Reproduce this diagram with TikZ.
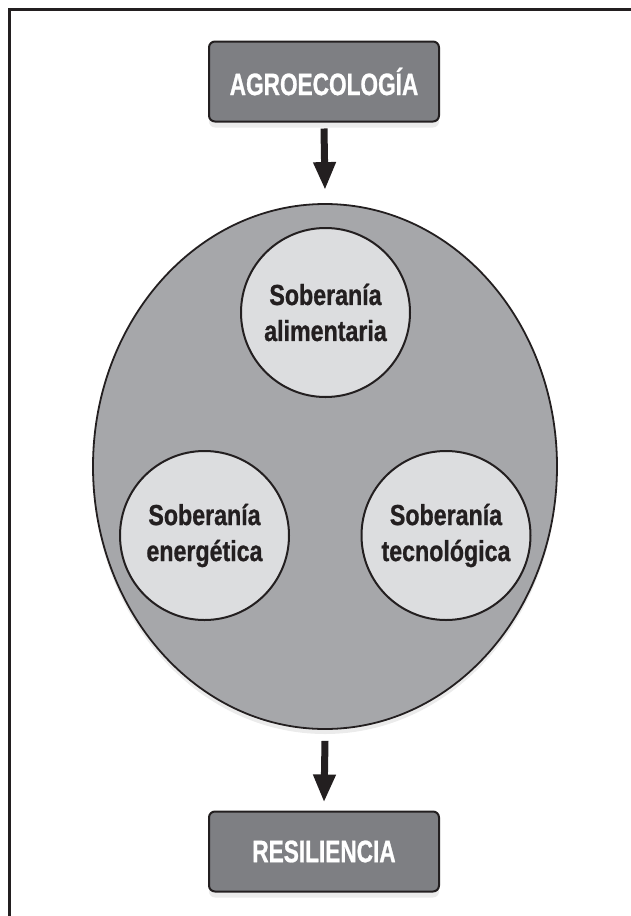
\documentclass[tikz,border=0pt]{standalone}
\usepackage{fontspec}
\setmainfont{Liberation Sans}
\newfontfamily\boxfont[FakeStretch=0.73,FakeBold=0.8]{Liberation Sans Bold}
\newfontfamily\circfont[FakeStretch=0.80,FakeBold=0.8]{Liberation Sans Bold}
\usetikzlibrary{shapes.geometric,arrows.meta,shadows}
\definecolor{ink}{HTML}{231F20}
\definecolor{boxgray}{HTML}{7E7F83}
\definecolor{ellgray}{HTML}{A6A7AA}
\definecolor{circgray}{HTML}{DCDDDF}
\tikzset{
  titlebox/.style={draw=ink, line width=2pt, fill=boxgray, rounded corners=6pt,
    minimum width=230pt, minimum height=80pt, inner sep=0pt,
    text=white, font=\boxfont\fontsize{31}{36}\selectfont,
    drop shadow={shadow xshift=0pt, shadow yshift=-6pt, opacity=0.16}},
  bigell/.style={ellipse, draw=ink, line width=1.8pt, fill=ellgray,
    minimum width=464pt, minimum height=525pt, inner sep=0pt,
    drop shadow={shadow xshift=0pt, shadow yshift=-5pt, opacity=0.16}},
  subcirc/.style={circle, draw=ink, line width=2pt, fill=circgray,
    minimum size=169pt, inner sep=0pt, align=center, text=ink,
    font=\circfont\fontsize{29}{36}\selectfont},
  flowarrow/.style={draw=ink, line width=7pt,
    -{Triangle[width=21pt,length=28pt]}},
  frameline/.style={draw=ink, line width=3pt}
}
\begin{document}
\begin{tikzpicture}[x=1pt,y=-1pt]
  \useasboundingbox (0,0) rectangle (631,916);
  \coordinate (fbl) at (9,916);
  \coordinate (ftl) at (9,9.5);
  \coordinate (ftr) at (631,9.5);
  \draw[frameline] (fbl) -- (ftl) -- (ftr);

  \node[titlebox] (agro) at (324,81.5) {AGROECOLOGÍA};
  \node[bigell] (ell) at (325,466.5) {};
  \node[subcirc] (alim) at (325.5,312.5) {Soberanía\\alimentaria};
  \node[subcirc] (ener) at (204.5,535.5) {Soberanía\\energética};
  \node[subcirc] (tecn) at (446,535.5) {Soberanía\\tecnológica};
  \node[titlebox] (resi) at (324,851.5) {RESILIENCIA};

  \draw[flowarrow] ([yshift=-6pt]agro.south) -- ([yshift=13pt]ell.north);
  \draw[flowarrow] ([yshift=-11pt]ell.south) -- ([yshift=8pt]resi.north);
\end{tikzpicture}
\end{document}
